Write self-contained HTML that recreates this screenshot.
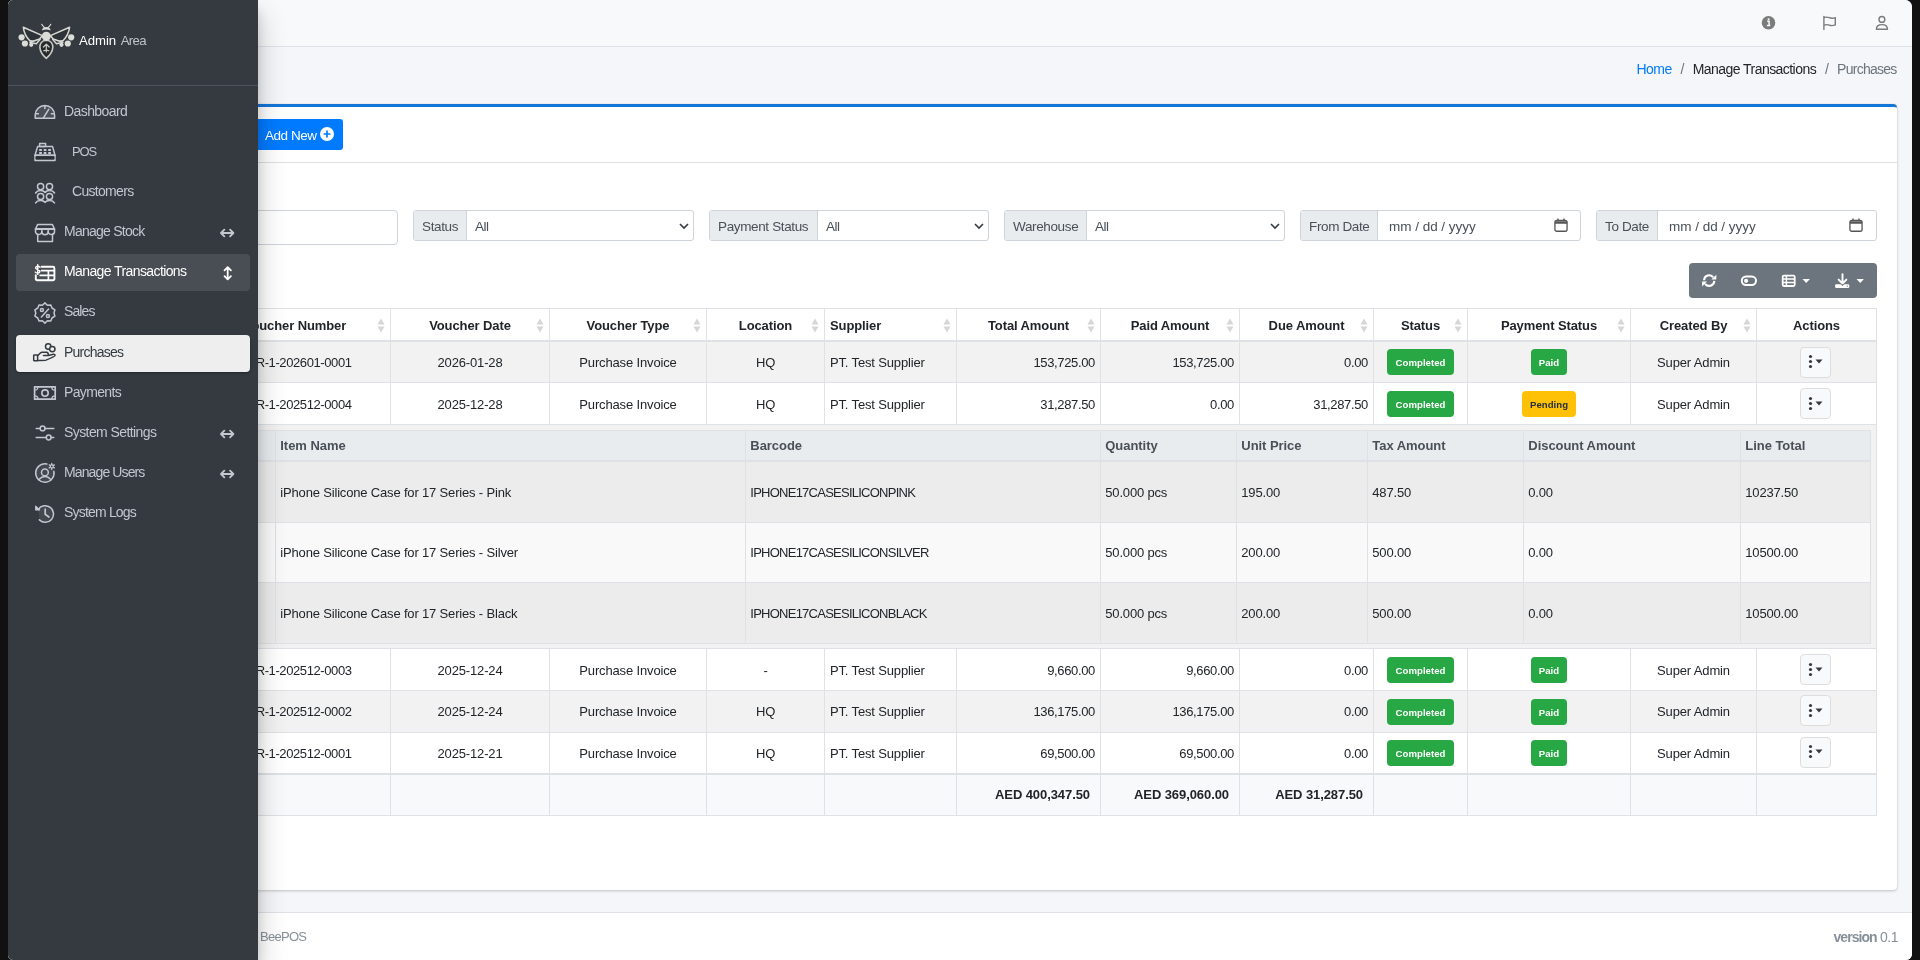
<!DOCTYPE html>
<html lang="en">
<head>
<meta charset="utf-8">
<title>Purchases - Admin Area</title>
<style>
*{box-sizing:border-box}
html,body{margin:0;padding:0}
body{width:1920px;height:960px;overflow:hidden;background:#111;font-family:"Liberation Sans",sans-serif;color:#212529;font-size:14px}
#frame{will-change:transform;position:absolute;left:8px;top:0;width:1904px;height:960px;background:#f4f6f9;border-radius:5px 7px 6px 5px;overflow:hidden}
.abs{position:absolute}
/* navbar */
#navbar{position:absolute;left:0;top:0;width:1904px;height:47px;background:#f8f9fa;border-bottom:1px solid #dee2e6}
/* sidebar */
#sidebar{position:absolute;left:0;top:0;width:250px;height:960px;background:#343a40;box-shadow:0 14px 28px rgba(0,0,0,.22),0 10px 10px rgba(0,0,0,.13);z-index:10}
#brand{position:absolute;left:0;top:0;width:250px;height:86px;border-bottom:1px solid #4b545c}
#brand .t{position:absolute;left:71px;top:31px;font-size:13.2px;letter-spacing:-.05px;color:#e4e6e8;white-space:nowrap;line-height:20px}
#brand .t b{font-weight:400;color:#fff}
#brand .t span{color:#bfc3ca;letter-spacing:-.7px;margin-left:1px}
.nav{position:absolute;left:8px;width:234px;height:37px;border-radius:4px;color:#c2c7d0;font-size:14px;letter-spacing:-.55px;line-height:37px;white-space:nowrap}
.nav .lbl{position:absolute;left:48px;top:-1px}
.nav.ind .lbl{left:56px}
.nav svg.ic{position:absolute;left:16px;top:0;width:26px;height:37px;fill:none;stroke:currentColor;stroke-width:1.5;stroke-linecap:round;stroke-linejoin:round}
.nav .arr{position:absolute;right:14px;top:0;width:16px;height:37px}
.nav.open{background:#494e54;color:#fff}
.nav.act{background:#eeeeee;color:#343a40;box-shadow:0 1px 3px rgba(0,0,0,.12),0 1px 2px rgba(0,0,0,.24)}
/* content */
#crumbs{position:absolute;top:59px;right:15.5px;height:20px;line-height:20px;font-size:14px;letter-spacing:-.55px;white-space:nowrap;color:#6c757d}
#crumbs a{color:#007bff;text-decoration:none}
#crumbs .m{color:#212529}
#crumbs .s{display:inline-block;width:21px;text-align:center;color:#6c757d}
#card{position:absolute;left:89px;top:104px;width:1800px;height:786px;background:#fff;border-top:3px solid #1476d8;border-radius:4px;box-shadow:0 0 1px rgba(0,0,0,.125),0 1px 3px rgba(0,0,0,.2)}
#cardhead{position:absolute;left:0;top:0;width:100%;height:56px;border-bottom:1px solid rgba(0,0,0,.125)}
#footer{position:absolute;left:0;top:912px;width:1904px;height:48px;background:#fff;border-top:1px solid #dee2e6;color:#869099;font-size:14px;letter-spacing:-.5px;line-height:20px}

/* screen-coordinate layer */
#L{position:absolute;left:-8px;top:0;width:1920px;height:960px}
#addnew{position:absolute;left:250px;top:119px;width:93px;height:31px;background:#007bff;border-radius:3px;color:#fff;font-size:13.5px;letter-spacing:-.45px;line-height:31px;white-space:nowrap}
#addnew span{position:absolute;left:15px;top:1px}
#addnew svg{position:absolute;left:70px;top:8px;width:14px;height:14px}
.fg{position:absolute;top:210px;height:31px;width:281px;border:1px solid #ced4da;border-radius:3px;background:#fff;font-size:13.5px;letter-spacing:-.45px;color:#495057;line-height:29px;white-space:nowrap;overflow:hidden}
.fg .ad{position:absolute;left:0;top:0;height:29px;line-height:31px;background:#e9ecef;border-right:1px solid #ced4da;padding-left:8px;letter-spacing:-.36px}
.fg .v{position:absolute;top:0;line-height:31px}
.fg svg{position:absolute}
#search{position:absolute;left:117px;top:210px;width:281px;height:35px;border:1px solid #ced4da;border-radius:4px;background:#fff}
#tools{position:absolute;left:1689px;top:263px;width:188px;height:35px;background:#6c757d;border-radius:4px}
#tools svg{position:absolute}

/* main table */
#mt{position:absolute;left:199px;top:308px;border-collapse:separate;border-spacing:0;table-layout:fixed;width:1677px;border-left:1px solid #dee2e6;border-top:1px solid #dee2e6;font-size:13px;letter-spacing:-.15px;color:#212529}
#mt th,#mt td{border-right:1px solid #dee2e6;border-bottom:1px solid #dee2e6;padding:0 5px;text-align:center;white-space:nowrap;overflow:hidden;vertical-align:middle}
#mt thead th{height:33px;padding-top:2px;border-bottom:2px solid #dee2e6;font-weight:700;font-size:13px;letter-spacing:-.1px;position:relative;background:#fff}
#mt tbody tr.r td{height:42px}
#mt tbody tr.r td{padding-top:2px}
#mt tbody tr.r.h41 td{height:41px;padding-top:0}
#mt tbody tr.r:nth-child(5) td{padding-top:0}
#mt tbody tr.r:not(.o.h41) .abtn{top:-1px}
#mt tbody tr.r.e:not(.h41) .bdg{top:-.5px}
#mt tbody tr.r td:first-child{letter-spacing:-.4px}
#mt tbody tr.r.o td{background:#f2f2f2}
#mt tbody tr.r.e td{background:#fff}
#mt td.l,#mt th.l{text-align:left}
#mt td.n{text-align:right;letter-spacing:-.35px}
#mt tfoot td{height:42px;padding-bottom:1px;border-top:1px solid #dee2e6;background:#f8f9fa;font-weight:700;text-align:right;padding-right:10px;letter-spacing:-.08px}
#mt th .so{position:absolute;right:5px;top:9px;width:8px;height:15px}
.bdg{display:inline-block;position:relative;height:26px;line-height:28px;border-radius:4px;font-size:9.6px;font-weight:700;letter-spacing:.03px;color:#fff;background:#28a745;vertical-align:middle}
.bdg.c{width:67px}.bdg.p{width:36px}.bdg.w{width:54px;background:#ffc107;color:#1f2d3d}
.abtn{left:-1px;display:inline-block;width:31px;height:31px;border:1px solid #ddd;border-radius:4px;background:#f8f9fa;vertical-align:middle;position:relative}
.abtn svg{position:absolute;left:7px;top:6.5px}
#mt td.child{background:#f2f2f2;height:224px;padding:0;position:relative}

/* nested table */
#nt{position:absolute;left:29px;top:5px;border-collapse:separate;border-spacing:0;table-layout:fixed;width:1641px;border-left:1px solid #dee2e6;border-top:1px solid #dee2e6;font-size:13px;letter-spacing:-.17px;color:#212529}
#nt th,#nt td{border-right:1px solid #dee2e6;border-bottom:1px solid #dee2e6;padding:0 0 0 4.3px;text-align:left;white-space:nowrap;overflow:hidden;vertical-align:middle}
#nt thead th{padding-top:0;height:31px;background:#e9ecef;color:#495057;font-weight:700;border-bottom:2px solid #dee2e6;letter-spacing:-.05px;position:static}
#nt td{height:61px}
#nt tr.e td{height:60px}
#nt tr.o td{background:#ececec}
#nt tr.e td{background:#f9f9f9}
#nt td.bc{letter-spacing:-.75px}
</style>
</head>
<body>
<div id="frame">
  <div id="navbar"></div>
  <div id="crumbs"><a>Home</a><span class="s">/</span><span class="m">Manage Transactions</span><span class="s">/</span><span style="letter-spacing:-.75px">Purchases</span></div>
  <div id="card">
    <div id="cardhead"></div>
  </div>
  <div id="L">
    <svg class="abs" style="left:1750px;top:8px" width="150" height="30" viewBox="1750 8 150 30"><circle cx="1768.5" cy="22.8" r="6.8" fill="#7b7b7c"/><path d="M1767.2 21.3h1.9v4.1M1766.9 25.6h3.4" stroke="#f8f9fa" stroke-width="1.5" fill="none"/><circle cx="1768.6" cy="19.2" r="1.05" fill="#f8f9fa"/><g fill="none" stroke="#7b7b7c" stroke-width="1.4" stroke-linecap="round" stroke-linejoin="round"><path d="M1823.9 16.4V29.4M1823.9 17.6Q1826.5 16.6 1829.3 17.7T1835.3 17.6V24.9Q1832 26.2 1829.3 25.1T1823.9 25.3"/><circle cx="1881.9" cy="19.4" r="2.9"/><path d="M1876.4 29.3Q1876.4 24.6 1881.9 24.6T1887.5 29.3Z"/></g></svg>
    <div id="addnew"><span>Add New</span><svg viewBox="0 0 14 14"><circle cx="7" cy="7" r="7" fill="#fff"/><path d="M7 3.6v6.8M3.6 7h6.8" stroke="#007bff" stroke-width="1.7" fill="none"/></svg></div>
    <div id="search"></div>
    <div class="fg" style="left:413px"><span class="ad" style="width:53px">Status</span><span class="v" style="left:61px">All</span><svg style="left:265px;top:12px" width="10" height="7" viewBox="0 0 10 7"><path d="M1 1l4 4 4-4" stroke="#343a40" stroke-width="1.6" fill="none"/></svg></div>
    <div class="fg" style="left:709px;width:280px"><span class="ad" style="width:108px">Payment Status</span><span class="v" style="left:116px">All</span><svg style="left:264px;top:12px" width="10" height="7" viewBox="0 0 10 7"><path d="M1 1l4 4 4-4" stroke="#343a40" stroke-width="1.6" fill="none"/></svg></div>
    <div class="fg" style="left:1004px"><span class="ad" style="width:82px">Warehouse</span><span class="v" style="left:90px">All</span><svg style="left:265px;top:12px" width="10" height="7" viewBox="0 0 10 7"><path d="M1 1l4 4 4-4" stroke="#343a40" stroke-width="1.6" fill="none"/></svg></div>
    <div class="fg" style="left:1300px"><span class="ad" style="width:77px">From Date</span><span class="v" style="left:88px;letter-spacing:-.02px">mm / dd / yyyy</span><svg class="cal" style="left:253px;top:7px" width="14" height="14" viewBox="0 0 15 15"><rect x="1" y="2.6" width="13" height="11.6" rx="2" fill="none" stroke="#555" stroke-width="1.4"/><path d="M1 4.800h13" stroke="#555" stroke-width="2.600"/><path d="M4.300 .6v2.600M10.700 .6v2.600" stroke="#555" stroke-width="1.500"/></svg></div>
    <div class="fg" style="left:1596px"><span class="ad" style="width:61px">To Date</span><span class="v" style="left:72px;letter-spacing:-.02px">mm / dd / yyyy</span><svg class="cal" style="left:252px;top:7px" width="14" height="14" viewBox="0 0 15 15"><rect x="1" y="2.6" width="13" height="11.6" rx="2" fill="none" stroke="#555" stroke-width="1.4"/><path d="M1 4.800h13" stroke="#555" stroke-width="2.600"/><path d="M4.300 .6v2.600M10.700 .6v2.600" stroke="#555" stroke-width="1.500"/></svg></div>
    <div id="tools"><svg style="left:0;top:0" width="188" height="35" viewBox="1689 263 188 35"><g fill="none" stroke="#fff" stroke-width="2.1" stroke-linecap="butt" stroke-linejoin="round"><path d="M1704.100 280.300A5.100 5.100 0 0 1 1713.300 277.400M1714.300 280.900A5.100 5.100 0 0 1 1705.100 283.800"/><rect x="1741.800" y="276.600" width="14.200" height="8.400" rx="4.200" stroke-width="2"/><rect x="1782.700" y="275.600" width="12" height="10.400" rx="1.200" stroke-width="1.800"/><path d="M1782.700 279.100h12M1782.700 282.500h12M1786.400 275.600v10.400" stroke-width="1.500"/></g><g fill="#fff"><path d="M1716.300 274.700v4.900h-4.900zM1702.100 286.500v-4.900h4.900z"/><circle cx="1746.100" cy="280.800" r="2.100"/><path d="M1802.500 278.900h7.400l-3.700 4.100z"/><path d="M1856.500 278.900h7.400l-3.700 4.100z"/><rect x="1835.100" y="284.200" width="14.200" height="3.800" rx="1.300"/></g><path d="M1842.500 274.100v8.600M1838.600 279.600l3.900 3.900l3.900 -3.900" fill="none" stroke="#fff" stroke-width="1.900" stroke-linecap="round" stroke-linejoin="round"/><path d="M1840.400 284.200l2.100 1.800l2.100 -1.800" fill="#6c757d"/><circle cx="1847.300" cy="286.100" r=".7" fill="#6c757d"/></svg></div>
    <table id="mt">
      <colgroup><col style="width:191px"><col style="width:159px"><col style="width:157px"><col style="width:118px"><col style="width:132px"><col style="width:144px"><col style="width:139px"><col style="width:134px"><col style="width:94px"><col style="width:163px"><col style="width:126px"><col style="width:120px"></colgroup>
      <thead><tr><th class="">Voucher Number<svg class="so" viewBox="0 0 8 15"><path d="M4 0.5l3.5 6h-7z" fill="#d6d6d6"/><path d="M4 14.5l3.5-6h-7z" fill="#d6d6d6"/></svg></th><th class="">Voucher Date<svg class="so" viewBox="0 0 8 15"><path d="M4 0.5l3.5 6h-7z" fill="#d6d6d6"/><path d="M4 14.5l3.5-6h-7z" fill="#d6d6d6"/></svg></th><th class="">Voucher Type<svg class="so" viewBox="0 0 8 15"><path d="M4 0.5l3.5 6h-7z" fill="#d6d6d6"/><path d="M4 14.5l3.5-6h-7z" fill="#d6d6d6"/></svg></th><th class="">Location<svg class="so" viewBox="0 0 8 15"><path d="M4 0.5l3.5 6h-7z" fill="#d6d6d6"/><path d="M4 14.5l3.5-6h-7z" fill="#d6d6d6"/></svg></th><th class="l">Supplier<svg class="so" viewBox="0 0 8 15"><path d="M4 0.5l3.5 6h-7z" fill="#d6d6d6"/><path d="M4 14.5l3.5-6h-7z" fill="#d6d6d6"/></svg></th><th class="">Total Amount<svg class="so" viewBox="0 0 8 15"><path d="M4 0.5l3.5 6h-7z" fill="#d6d6d6"/><path d="M4 14.5l3.5-6h-7z" fill="#d6d6d6"/></svg></th><th class="">Paid Amount<svg class="so" viewBox="0 0 8 15"><path d="M4 0.5l3.5 6h-7z" fill="#d6d6d6"/><path d="M4 14.5l3.5-6h-7z" fill="#d6d6d6"/></svg></th><th class="">Due Amount<svg class="so" viewBox="0 0 8 15"><path d="M4 0.5l3.5 6h-7z" fill="#d6d6d6"/><path d="M4 14.5l3.5-6h-7z" fill="#d6d6d6"/></svg></th><th class="">Status<svg class="so" viewBox="0 0 8 15"><path d="M4 0.5l3.5 6h-7z" fill="#d6d6d6"/><path d="M4 14.5l3.5-6h-7z" fill="#d6d6d6"/></svg></th><th class="">Payment Status<svg class="so" viewBox="0 0 8 15"><path d="M4 0.5l3.5 6h-7z" fill="#d6d6d6"/><path d="M4 14.5l3.5-6h-7z" fill="#d6d6d6"/></svg></th><th class="">Created By<svg class="so" viewBox="0 0 8 15"><path d="M4 0.5l3.5 6h-7z" fill="#d6d6d6"/><path d="M4 14.5l3.5-6h-7z" fill="#d6d6d6"/></svg></th><th class="">Actions</th></tr></thead>
      <tbody>
        <tr class="r o h41"><td>PUR-1-202601-0001</td><td>2026-01-28</td><td>Purchase Invoice</td><td>HQ</td><td class="l">PT. Test Supplier</td><td class="n">153,725.00</td><td class="n">153,725.00</td><td class="n">0.00</td><td><span class="bdg c">Completed</span></td><td><span class="bdg p">Paid</span></td><td>Super Admin</td><td><span class="abtn"><svg width="17" height="15" viewBox="0 0 17 15"><circle cx="2.5" cy="2.5" r="1.6" fill="#343a40"/><circle cx="2.5" cy="7.5" r="1.6" fill="#343a40"/><circle cx="2.5" cy="12.5" r="1.6" fill="#343a40"/><path d="M7.5 5.5h7l-3.5 4z" fill="#343a40"/></svg></span></td></tr>
        <tr class="r e"><td>PUR-1-202512-0004</td><td>2025-12-28</td><td>Purchase Invoice</td><td>HQ</td><td class="l">PT. Test Supplier</td><td class="n">31,287.50</td><td class="n">0.00</td><td class="n">31,287.50</td><td><span class="bdg c">Completed</span></td><td><span class="bdg w">Pending</span></td><td>Super Admin</td><td><span class="abtn"><svg width="17" height="15" viewBox="0 0 17 15"><circle cx="2.5" cy="2.5" r="1.6" fill="#343a40"/><circle cx="2.5" cy="7.5" r="1.6" fill="#343a40"/><circle cx="2.5" cy="12.5" r="1.6" fill="#343a40"/><path d="M7.5 5.5h7l-3.5 4z" fill="#343a40"/></svg></span></td></tr>
        <tr><td class="child" colspan="12"><table id="nt"><colgroup><col style="width:46px"><col style="width:470px"><col style="width:355px"><col style="width:136px"><col style="width:131px"><col style="width:156px"><col style="width:217px"><col style="width:130px"></colgroup><thead><tr><th>#</th><th>Item Name</th><th>Barcode</th><th>Quantity</th><th>Unit Price</th><th>Tax Amount</th><th>Discount Amount</th><th>Line Total</th></tr></thead><tbody><tr class="o"><td>1</td><td>iPhone Silicone Case for 17 Series - Pink</td><td class="bc">IPHONE17CASESILICONPINK</td><td>50.000 pcs</td><td>195.00</td><td>487.50</td><td>0.00</td><td>10237.50</td></tr><tr class="e"><td>2</td><td>iPhone Silicone Case for 17 Series - Silver</td><td class="bc">IPHONE17CASESILICONSILVER</td><td>50.000 pcs</td><td>200.00</td><td>500.00</td><td>0.00</td><td>10500.00</td></tr><tr class="o"><td>3</td><td>iPhone Silicone Case for 17 Series - Black</td><td class="bc">IPHONE17CASESILICONBLACK</td><td>50.000 pcs</td><td>200.00</td><td>500.00</td><td>0.00</td><td>10500.00</td></tr></tbody></table></td></tr>
        <tr class="r e"><td>PUR-1-202512-0003</td><td>2025-12-24</td><td>Purchase Invoice</td><td>-</td><td class="l">PT. Test Supplier</td><td class="n">9,660.00</td><td class="n">9,660.00</td><td class="n">0.00</td><td><span class="bdg c">Completed</span></td><td><span class="bdg p">Paid</span></td><td>Super Admin</td><td><span class="abtn"><svg width="17" height="15" viewBox="0 0 17 15"><circle cx="2.5" cy="2.5" r="1.6" fill="#343a40"/><circle cx="2.5" cy="7.5" r="1.6" fill="#343a40"/><circle cx="2.5" cy="12.5" r="1.6" fill="#343a40"/><path d="M7.5 5.5h7l-3.5 4z" fill="#343a40"/></svg></span></td></tr>
        <tr class="r o"><td>PUR-1-202512-0002</td><td>2025-12-24</td><td>Purchase Invoice</td><td>HQ</td><td class="l">PT. Test Supplier</td><td class="n">136,175.00</td><td class="n">136,175.00</td><td class="n">0.00</td><td><span class="bdg c">Completed</span></td><td><span class="bdg p">Paid</span></td><td>Super Admin</td><td><span class="abtn"><svg width="17" height="15" viewBox="0 0 17 15"><circle cx="2.5" cy="2.5" r="1.6" fill="#343a40"/><circle cx="2.5" cy="7.5" r="1.6" fill="#343a40"/><circle cx="2.5" cy="12.5" r="1.6" fill="#343a40"/><path d="M7.5 5.5h7l-3.5 4z" fill="#343a40"/></svg></span></td></tr>
        <tr class="r e h41"><td>PUR-1-202512-0001</td><td>2025-12-21</td><td>Purchase Invoice</td><td>HQ</td><td class="l">PT. Test Supplier</td><td class="n">69,500.00</td><td class="n">69,500.00</td><td class="n">0.00</td><td><span class="bdg c">Completed</span></td><td><span class="bdg p">Paid</span></td><td>Super Admin</td><td><span class="abtn"><svg width="17" height="15" viewBox="0 0 17 15"><circle cx="2.5" cy="2.5" r="1.6" fill="#343a40"/><circle cx="2.5" cy="7.5" r="1.6" fill="#343a40"/><circle cx="2.5" cy="12.5" r="1.6" fill="#343a40"/><path d="M7.5 5.5h7l-3.5 4z" fill="#343a40"/></svg></span></td></tr>
      </tbody>
      <tfoot><tr><td></td><td></td><td></td><td></td><td></td><td>AED 400,347.50</td><td>AED 369,060.00</td><td>AED 31,287.50</td><td></td><td></td><td></td><td></td></tr></tfoot>
    </table>
  </div>
  <div id="footer">
    <span class="abs" style="left:252px;top:14px;font-size:13px;letter-spacing:-.72px">BeePOS</span>
    <span class="abs" style="right:14px;top:14px;white-space:nowrap"><b style="letter-spacing:-.95px">version</b> 0.1</span>
  </div>
  <div id="sidebar">
    <div id="brand"><svg class="abs" style="left:6px;top:18px" width="64" height="44" viewBox="14 18 64 44">
<g fill="none" stroke="#d9d9d4" stroke-linecap="round" stroke-linejoin="round">
<path d="M45 28.4L41.7 24.3M47.6 28.4L50.8 24.3" stroke-width="1.1"/>
<path d="M23.3 27.2L42.4 35.6L39.6 39L33 41.2L29.6 40.6Q24.2 35 23.3 27.2Z" stroke-width="1.5" fill="rgba(20,22,24,.18)"/>
<path d="M40.2 39.3L36.3 43.7L29.8 42.2L33.2 41.2" stroke-width="1.4"/>
<path d="M69.6 27.2L50.4 35.6L53.2 39L59.8 41.2L63.2 40.6Q68.6 35 69.6 27.2Z" stroke-width="1.5" fill="rgba(20,22,24,.18)"/>
<path d="M52.6 39.3L56.5 43.7L63 42.2L59.6 41.2" stroke-width="1.4"/>
<path d="M46.3 40.2C41.6 40.4 39.6 44 39.9 47.6C40.3 52.4 43.8 56.2 46.3 58.4C48.8 56.2 52.4 52.4 52.8 47.6C53.1 44 51 40.4 46.3 40.2Z" stroke-width="1.6" stroke="#c9c8c0" fill="rgba(20,22,24,.45)"/>
<path d="M46.3 44.2V52M43.4 47L46.3 44.2L49.2 47M43.8 50.8Q46.3 49.6 48.8 50.8" stroke="#c9c8c0" stroke-width="1.2"/>
</g>
<g fill="#dcdcd8">
<circle cx="46.3" cy="36.3" r="4.5"/>
<path d="M42 30.6Q42.2 27 46.3 26.9Q50.4 27 50.6 30.6Q46.3 28.6 42 30.6Z"/>
<circle cx="21.6" cy="37.3" r="3.1"/><circle cx="24.9" cy="43.5" r="3.1"/><circle cx="31.2" cy="44.8" r="2.1"/>
<circle cx="71.2" cy="37.3" r="3.1"/><circle cx="67.8" cy="43.5" r="3.1"/><circle cx="61.5" cy="44.8" r="2.1"/>
</g>
</svg><div class="t"><b>Admin</b> <span>Area</span></div></div>
    <div class="nav" style="top:94px"><svg class="ic" viewBox="0 0 26 37"><path d="M3.2 24.3V21.2A9.7 9.7 0 0 1 22.6 21.2V24.3Z" fill="rgba(255,255,255,.12)"/><path d="M12.9 11.8v2.8M3.4 19.8h3M19.4 19.8h3M11.4 24L16.7 15.3"/></svg><span class="lbl" style="letter-spacing:-0.58px">Dashboard</span></div>
    <div class="nav ind" style="top:134px"><svg class="ic" viewBox="0 0 26 37"><rect x="7.6" y="9.6" width="6" height="3"/><path d="M5.6 12.6H20.6L23 21.2H3Z"/><rect x="3" y="21.2" width="20" height="5.4"/><path d="M4.5 23.9h17" stroke-width="2.2" stroke="#2b3035"/><g fill="currentColor" stroke="none"><rect x="7.2" y="15" width="2.7" height="2"/><rect x="11.7" y="15" width="2.7" height="2"/><rect x="16.2" y="15" width="2.7" height="2"/><rect x="7.2" y="18" width="2.7" height="2"/><rect x="11.7" y="18" width="2.7" height="2"/><rect x="16.2" y="18" width="2.7" height="2"/></g></svg><span class="lbl" style="font-size:13px;letter-spacing:-1.1px">POS</span></div>
    <div class="nav ind" style="top:174px"><svg class="ic" viewBox="0 0 26 37"><circle cx="8.6" cy="12.6" r="3.1"/><circle cx="17.5" cy="12.6" r="3.1"/><circle cx="8.6" cy="22.5" r="3.1"/><circle cx="17.5" cy="22.5" r="3.1"/><path d="M3.6 19C5.5 15.8 11.3 15.8 13.05 18.5C14.8 15.8 20.6 15.8 22.5 19M3.6 28.9C5.5 25.7 11.3 25.7 13.05 28.4C14.8 25.7 20.6 25.7 22.5 28.9" stroke-width="1.6"/></svg><span class="lbl" style="letter-spacing:-0.69px">Customers</span></div>
    <div class="nav" style="top:214px"><svg class="ic" viewBox="0 0 26 37"><path d="M5.6 10.6H20.4L22.5 15V17.2A3.1 3.1 0 0 1 16.2 17.6A3.1 3.1 0 0 1 9.8 17.6A3.1 3.1 0 0 1 3.5 17.2V15Z"/><path d="M3.6 15h18.8" stroke-width="1.8"/><path d="M5.7 20.2V27.4H20.5V20.2"/><path d="M9.8 15v2.4M16.2 15v2.4"/></svg><span class="lbl" style="letter-spacing:-0.75px">Manage Stock</span><svg class="arr" viewBox="0 0 16 37"><path d="M1 19h12.400M4.300 15.700L1 19L4.300 22.300M10.100 15.700L13.400 19L10.100 22.300" fill="none" stroke="currentColor" stroke-width="1.8" stroke-linecap="round" stroke-linejoin="round"/></svg></div>
    <div class="nav open" style="top:254px"><svg class="ic" viewBox="0 0 26 37"><path d="M9.6 12.8H21A1.4 1.4 0 0 1 22.4 14.2V24.9A1.4 1.4 0 0 1 21 26.3H5.2A1.4 1.4 0 0 1 3.8 24.9V21.3" stroke-width="1.9"/><path d="M9.6 16.6H22M8.2 21.4H22M16.4 16.8V26" stroke-width="1.7"/><path d="M7.9 13.3C7.3 11.9 3.9 11.7 3.6 13.6C3.3 15.8 8.1 15.2 7.9 17.6C7.7 19.6 4 19.5 3.2 18M5.75 10.6V20.4" stroke-width="1.4"/></svg><span class="lbl" style="letter-spacing:-0.6px">Manage Transactions</span><svg class="arr" viewBox="0 0 16 37"><path d="M7.700 13.400v11.700M4.500 16.400L7.700 13.200L10.900 16.400M4.500 22.100L7.700 25.300L10.900 22.100" fill="none" stroke="currentColor" stroke-width="1.8" stroke-linecap="round" stroke-linejoin="round"/></svg></div>
    <div class="nav" style="top:294px"><svg class="ic" viewBox="0 0 26 37"><path d="M12.9 8.9L15.4 11.2L18.8 10.9L20.0 14.0L22.9 15.8L22.0 19.0L22.9 22.2L20.0 24.0L18.8 27.1L15.4 26.8L12.9 29.1L10.4 26.8L7.0 27.1L5.8 24.0L2.9 22.2L3.8 19.0L2.9 15.8L5.8 14.0L7.0 10.9L10.4 11.2Z"/><circle cx="9.9" cy="15.9" r="1.5"/><circle cx="15.9" cy="22.1" r="1.5"/><path d="M9.4 23L16.6 15"/></svg><span class="lbl" style="letter-spacing:-0.91px">Sales</span></div>
    <div class="nav act" style="top:335px"><svg class="ic" viewBox="0 0 26 37"><circle cx="16.2" cy="11.5" r="2.7"/><circle cx="20.3" cy="14.1" r="2.7" fill="#eee"/><rect x="1.7" y="20" width="3.9" height="5.8" rx=".6"/><path d="M5.6 20.8L8.6 17.8Q9.2 17.3 10 17.3H14.6Q16.4 17.5 16.5 20.4H11.5M16.5 20.4L21.4 19.2Q23.2 19.1 23 20.6Q22.7 21.6 14 25.1Q12.8 25.5 5.6 25.4"/></svg><span class="lbl" style="letter-spacing:-0.77px">Purchases</span></div>
    <div class="nav" style="top:375px"><svg class="ic" viewBox="0 0 26 37"><rect x="2.6" y="11.8" width="20.6" height="12.4" stroke-width="1.7"/><circle cx="13" cy="18.1" r="3.2" stroke-width="1.6"/><path d="M2.8 15.2A3.2 3.2 0 0 0 6 12M23 15.2A3.2 3.2 0 0 1 19.8 12M2.8 20.8A3.2 3.2 0 0 1 6 24M23 20.8A3.2 3.2 0 0 0 19.8 24" stroke-width="1.3"/></svg><span class="lbl" style="letter-spacing:-0.66px">Payments</span></div>
    <div class="nav" style="top:415px"><svg class="ic" viewBox="0 0 26 37"><path d="M4.2 13.4H8.2M13 13.4H21.8M4.2 22.5H14.3M19.1 22.5H21.8"/><circle cx="10.6" cy="13.4" r="2.4"/><circle cx="16.7" cy="22.5" r="2.4"/></svg><span class="lbl" style="letter-spacing:-0.58px">System Settings</span><svg class="arr" viewBox="0 0 16 37"><path d="M1 19h12.400M4.300 15.700L1 19L4.300 22.300M10.100 15.700L13.400 19L10.100 22.300" fill="none" stroke="currentColor" stroke-width="1.8" stroke-linecap="round" stroke-linejoin="round"/></svg></div>
    <div class="nav" style="top:455px"><svg class="ic" viewBox="0 0 26 37"><path d="M14.9 9.1A9.2 9.2 0 1 0 21.9 16.2" fill="rgba(255,255,255,.08)"/><circle cx="12.9" cy="17.4" r="3.4"/><path d="M6.6 24.8Q12.9 18.4 19.2 24.8"/><path d="M19.8 8.4v6M17.2 9.9l5.2 3M22.4 9.9l-5.2 3" stroke-width="1.3"/><circle cx="19.8" cy="11.4" r="1.5" stroke-width="1.2" fill="#343a40"/></svg><span class="lbl" style="letter-spacing:-0.88px">Manage Users</span><svg class="arr" viewBox="0 0 16 37"><path d="M1 19h12.400M4.300 15.700L1 19L4.300 22.300M10.100 15.700L13.400 19L10.100 22.300" fill="none" stroke="currentColor" stroke-width="1.8" stroke-linecap="round" stroke-linejoin="round"/></svg></div>
    <div class="nav" style="top:495px"><svg class="ic" viewBox="0 0 26 37"><path d="M6.3 14.4A8.3 8.3 0 1 1 7.4 24.9" fill="rgba(255,255,255,.08)"/><path d="M3.7 11.2V15H7.6Z" fill="currentColor" stroke-width="1.2"/><path d="M13.2 14.2V19.3L16.9 22" stroke-width="1.7"/></svg><span class="lbl" style="letter-spacing:-0.81px">System Logs</span></div>
  </div>
</div>
</body>
</html>
